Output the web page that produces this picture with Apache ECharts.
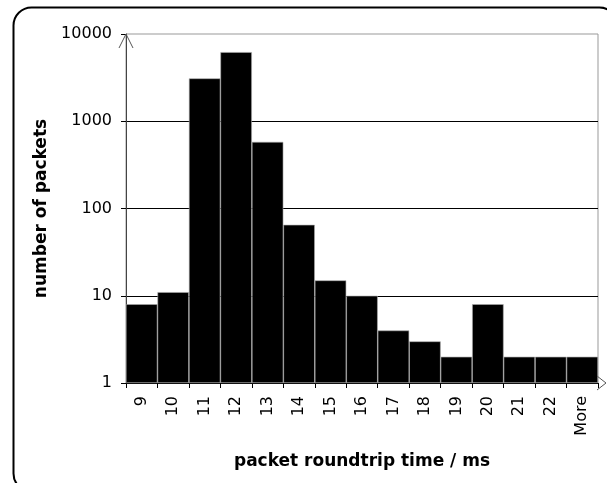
<!DOCTYPE html>
<html><head><meta charset="utf-8">
<script src="https://cdn.jsdelivr.net/npm/echarts@6/dist/echarts.min.js"></script>
<style>html,body{margin:0;padding:0;background:#fff}#c{width:607px;height:483px}</style>
</head><body><div id="c"></div>
<script>
var categories = ['9','10','11','12','13','14','15','16','17','18','19','20','21','22','More'];
var packets = [8, 11, 3100, 6200, 580, 65, 15, 10, 4, 3, 2, 8, 2, 2, 2];
var yTicks = [1, 10, 100, 1000, 10000];
var xTitle = 'packet roundtrip time / ms';
var yTitle = 'number of packets';

var chart = echarts.init(document.getElementById('c'));
var font = 'DejaVu Sans, Verdana, sans-serif';
var frame = {
  type: 'rect', left: 11, top: 5, z: 100, silent: true,
  shape: {width: 604, height: 484, r: 18},
  style: {fill: 'none', stroke: '#000', lineWidth: 2}
};
chart.setOption({
  animation: false,
  grid: {left: 126, right: 9, top: 34, bottom: 100, show: true, borderColor: '#999', borderWidth: 1, backgroundColor: 'transparent'},
  graphic: [frame],
  xAxis: {
    type: 'category', data: categories, boundaryGap: true,
    axisLine: {lineStyle: {color: '#000', width: 1}},
    axisTick: {show: true, length: 5, lineStyle: {color: '#000'}},
    axisLabel: {rotate: 90, color: '#000', fontFamily: font, fontSize: 16, margin: 13, interval: 0},
    name: xTitle, nameLocation: 'middle', nameGap: 70,
    nameTextStyle: {fontFamily: font, fontSize: 17, fontWeight: 'bold', color: '#000'}
  },
  yAxis: {
    type: 'log', logBase: 10, min: 1, max: 10000,
    axisLine: {show: true, lineStyle: {color: '#444', width: 1}},
    axisTick: {show: true, length: 5, lineStyle: {color: '#000'}},
    axisLabel: {color: '#000', fontFamily: font, fontSize: 16, margin: 14,
      formatter: function (v) { return yTicks.indexOf(v) >= 0 ? String(v) : ''; }},
    splitLine: {show: true, showMinLine: false, showMaxLine: false, lineStyle: {color: '#000', width: 1}},
    name: yTitle, nameLocation: 'middle', nameGap: 72,
    nameTextStyle: {fontFamily: font, fontSize: 17, fontWeight: 'bold', color: '#000'}
  },
  series: [{
    type: 'bar', data: packets, barCategoryGap: '0%',
    itemStyle: {color: '#000', borderColor: '#aaa', borderWidth: 0.6}
  }]
});

// open-arrow decorations on the axes
var g = chart.getModel().getComponent('grid').coordinateSystem.getRect();
chart.setOption({graphic: [frame, {
  type: 'polyline', silent: true, z: 50,
  shape: {points: [[g.x - 7, g.y + 14], [g.x, g.y], [g.x + 7, g.y + 14]]},
  style: {stroke: '#555', lineWidth: 1, fill: 'none'}
}, {
  type: 'polyline', silent: true, z: 50,
  shape: {points: [[g.x + g.width - 1, g.y + g.height - 7], [g.x + g.width + 8, g.y + g.height], [g.x + g.width - 1, g.y + g.height + 7]]},
  style: {stroke: '#555', lineWidth: 1, fill: 'none'}
}]});
</script></body></html>
